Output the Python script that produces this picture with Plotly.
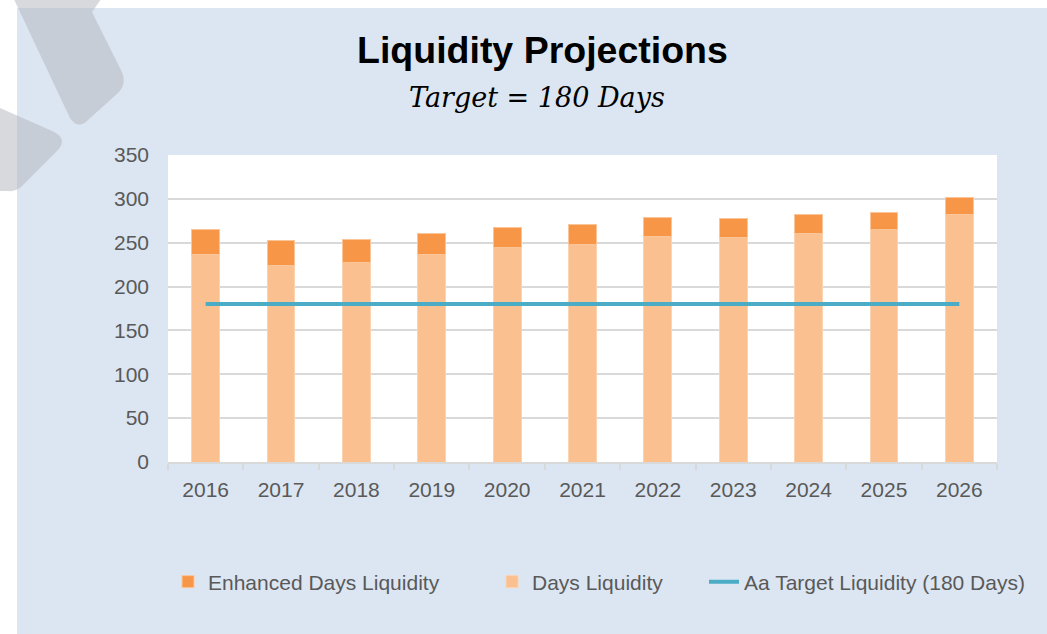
import plotly.graph_objects as go

years = ["2016", "2017", "2018", "2019", "2020", "2021", "2022", "2023", "2024", "2025", "2026"]
days_liquidity = [236, 224, 228, 236, 244, 248, 257, 256, 261, 265, 282]
total_liquidity = [265, 252, 254, 261, 267, 271, 279, 278, 282, 285, 302]
enhanced_liquidity = [t - d for t, d in zip(total_liquidity, days_liquidity)]
target_liquidity = [180] * len(years)

W, H = 1047, 634
L, R, T, B = 168, 997, 155, 462


def px(x):
    return (x - L) / (R - L)


def py(y):
    return (B - y) / (B - T)


def path(points):
    s = ""
    for p in points:
        cmd = p[0]
        coords = p[1:]
        s += cmd + " ".join(
            f"{px(coords[j]):.4f},{py(coords[j+1]):.4f}" for j in range(0, len(coords), 2)
        ) + " "
    return s + "Z"


fig = go.Figure()
fig.add_trace(go.Bar(
    x=years, y=days_liquidity, name="Days Liquidity",
    marker=dict(color="#fac090", line=dict(color="#fcd3b1", width=1)),
    legend="legend2", hoverinfo="skip",
))
fig.add_trace(go.Bar(
    x=years, y=enhanced_liquidity, name="Enhanced Days Liquidity",
    marker=dict(color="#f79646", line=dict(color="#fbc59a", width=1)),
    legend="legend", hoverinfo="skip",
))
fig.add_trace(go.Scatter(
    x=years, y=target_liquidity, name="Aa Target Liquidity (180 Days)",
    mode="lines", line=dict(color="#4bacc6", width=4),
    legend="legend3", hoverinfo="skip",
))

gray = "rgba(178,180,186,0.5)"
shapes = [
    # blue panel
    dict(type="rect", xref="paper", yref="paper", x0=px(17), x1=px(1060), y0=py(8), y1=py(650),
         fillcolor="#dce6f2", line=dict(width=0), layer="below"),
    # white plot area
    dict(type="rect", xref="paper", yref="paper", x0=0, x1=1, y0=0, y1=1,
         fillcolor="white", line=dict(width=0), layer="below"),
    # decorative gray shapes
    dict(type="path", xref="paper", yref="paper", layer="below", fillcolor=gray, line=dict(width=0),
         path=path([("M", 12, -5), ("L", 104, -5), ("L", 92, 12), ("L", 122, 72),
                    ("Q", 127, 84, 118, 93), ("L", 88, 120), ("Q", 78, 130, 70, 118),
                    ("L", 12, -5)])),
    dict(type="path", xref="paper", yref="paper", layer="below", fillcolor=gray, line=dict(width=0),
         path=path([("M", -2, 107), ("L", 52, 131), ("Q", 68, 138, 58, 150),
                    ("L", 22, 186), ("Q", 16, 192, 8, 191), ("L", -2, 191)])),
]

tick_font = dict(family="Liberation Sans, Arial", size=21, color="#595959")
legend_font = dict(family="Liberation Sans, Arial", size=21, color="#595959")

fig.update_layout(
    width=W, height=H,
    margin=dict(l=L, r=W - R, t=T, b=H - B, pad=0),
    paper_bgcolor="white",
    plot_bgcolor="white",
    barmode="stack",
    bargap=0.63,
    shapes=shapes,
    showlegend=True,
    legend=dict(x=px(168), y=py(582), xanchor="left", yanchor="middle", orientation="h",
                font=legend_font, bgcolor="rgba(0,0,0,0)"),
    legend2=dict(x=px(492), y=py(582), xanchor="left", yanchor="middle", orientation="h",
                 font=legend_font, bgcolor="rgba(0,0,0,0)"),
    legend3=dict(x=px(704), y=py(582), xanchor="left", yanchor="middle", orientation="h",
                 font=legend_font, bgcolor="rgba(0,0,0,0)"),
    annotations=[
        dict(text="<b>Liquidity Projections</b>", xref="paper", yref="paper",
             x=px(542), y=py(50), xanchor="center", yanchor="middle", showarrow=False,
             font=dict(family="Liberation Sans, Arial", size=37.5, color="black")),
        dict(text="<i>Target = 180 Days</i>", xref="paper", yref="paper",
             x=px(537), y=py(98), xanchor="center", yanchor="middle", showarrow=False,
             font=dict(family="DejaVu Serif", size=27, color="black")),
    ],
    xaxis=dict(
        type="category", showgrid=False, showline=True, linecolor="#d9d9d9", linewidth=2,
        ticks="outside", tickson="boundaries", ticklen=6, tickcolor="#d9d9d9", tickwidth=2,
        tickfont=tick_font, ticklabelstandoff=8, fixedrange=True,
    ),
    yaxis=dict(
        range=[0, 350], dtick=50, showgrid=True, gridcolor="#d9d9d9", gridwidth=2,
        zeroline=False, showline=False, ticks="", tickfont=tick_font,
        ticklabelstandoff=18, fixedrange=True,
    ),
)

fig.write_html(
    "out.html",
    config={"displayModeBar": False},
    post_script="document.body.style.margin='0';document.body.style.overflow='hidden';",
)
